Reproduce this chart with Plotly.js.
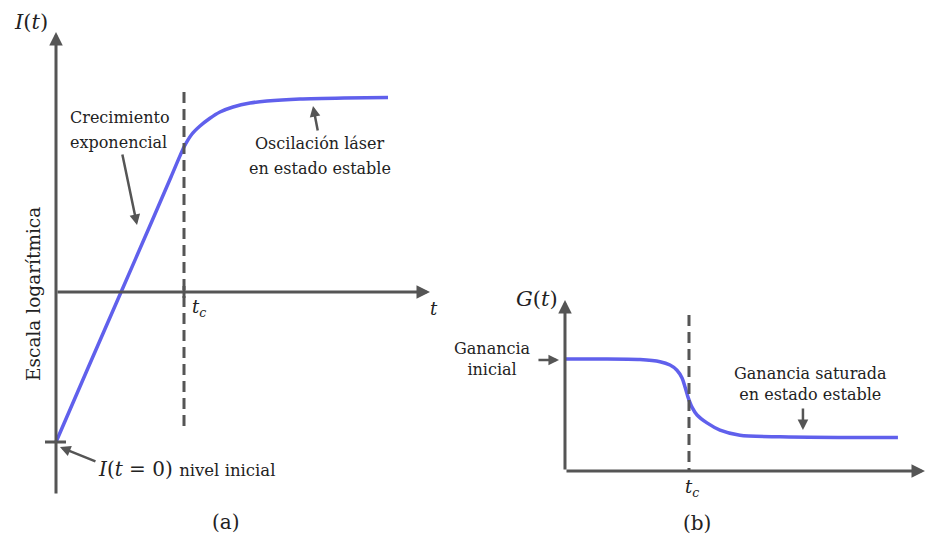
<!DOCTYPE html>
<html>
<head>
<meta charset="utf-8">
<script src="https://cdn.plot.ly/plotly-3.0.1.min.js"></script>
<style>
  html, body { margin: 0; padding: 0; background: #fff; }
  #chart { width: 927px; height: 538px; }
</style>
</head>
<body>
<div id="chart"></div>
<script>
// (a) Intensidad en escala logarítmica frente al tiempo
const timeA = [0, 0.25, 0.5, 0.75, 0.9, 1.0, 1.0625, 1.125, 1.2, 1.281, 1.383, 1.516, 1.648, 1.906, 2.25, 2.594];
const levelA = [-3.0, -1.52, -0.05, 1.42, 2.31, 2.9, 3.16, 3.32, 3.47, 3.6, 3.7, 3.78, 3.82, 3.86, 3.88, 3.89];

// (b) Ganancia frente al tiempo
const timeB = [0, 0.282, 0.605, 0.766, 0.847, 0.903, 0.944, 0.968, 0.992, 1.024, 1.065, 1.145, 1.25, 1.411, 1.734, 2.218, 2.685];
const gainB = [1.0, 1.0, 0.995, 0.976, 0.946, 0.9, 0.83, 0.75, 0.66, 0.57, 0.5, 0.43, 0.366, 0.32, 0.305, 0.30, 0.30];

// Instante crítico y nivel inicial
const tCrit = 1.0;
const levelInitial = -3.0;

const AXIS = '#555555';
const CURVE = 'rgb(96,96,236)';
const INK = '#222222';
const FONT = 'DejaVu Serif';

const traces = [
  { x: timeA, y: levelA, xaxis: 'x', yaxis: 'y', mode: 'lines',
    line: { color: CURVE, width: 3.5, shape: 'spline', smoothing: 0.6 }, hoverinfo: 'skip' },
  { x: timeB, y: gainB, xaxis: 'x2', yaxis: 'y2', mode: 'lines',
    line: { color: CURVE, width: 3.5, shape: 'spline', smoothing: 0.8 }, hoverinfo: 'skip' }
];

function arrow(ref, x, y, ax, ay, w, size) {
  return { xref: 'x' + ref, yref: 'y' + ref, axref: 'x' + ref, ayref: 'y' + ref,
    x: x, y: y, ax: ax, ay: ay, text: '', showarrow: true,
    arrowhead: 2, arrowsize: size, arrowwidth: w, arrowcolor: AXIS, standoff: 0, startstandoff: 0 };
}
function label(ref, x, y, text, opts) {
  return Object.assign({ xref: 'x' + ref, yref: 'y' + ref, x: x, y: y, text: text,
    showarrow: false, xanchor: 'center', yanchor: 'middle',
    font: { family: FONT, size: 16, color: INK } }, opts || {});
}
function mathFont(size) { return { family: FONT, size: size, color: INK }; }

const annotations = [
  // ejes del panel (a)
  arrow('', 0, 5.2, 0, -4.06, 3, 0.9),
  arrow('', 2.922, 0, 0, 0, 3, 0.9),
  // flechas de rótulos (a)
  arrow('', 0.633, 1.34, 0.516, 2.78, 2.5, 0.85),
  arrow('', 2.008, 3.72, 2.047, 3.2, 2.5, 0.85),
  arrow('', 0.031, -3.1, 0.32, -3.4, 2.5, 0.85),
  // textos (a)
  label('', -0.195, 5.4, '<i>I</i>(<i>t</i>)', { font: mathFont(21) }),
  label('', -0.18, -0.04, 'Escala logarítmica', { textangle: -90, font: mathFont(18.5) }),
  label('', 0.094, 3.49, 'Crecimiento', { xanchor: 'left' }),
  label('', 0.094, 3.0, 'exponencial', { xanchor: 'left' }),
  label('', 2.0625, 2.97, 'Oscilación láser'),
  label('', 2.0625, 2.48, 'en estado estable'),
  label('', 1.05, -0.32, '<i>t</i><sub><i>c</i></sub>', { xanchor: 'left', font: mathFont(18) }),
  label('', 2.953, -0.32, '<i>t</i>', { font: mathFont(18) }),
  label('', 0.31, -3.54, '<i>I</i>(<i>t</i> = 0) <span style="font-size:16.5px">nivel inicial</span>',
    { xanchor: 'left', font: mathFont(20) }),
  label('', 1.328, -4.6, '(a)', { font: mathFont(20) }),

  // ejes del panel (b)
  arrow('2', 0, 1.527, 0, 0, 3, 0.9),
  arrow('2', 2.903, 0, 0, 0, 3, 0.9),
  // flechas de rótulos (b)
  arrow('2', -0.048, 0.991, -0.226, 0.991, 2.5, 0.85),
  arrow('2', 1.919, 0.366, 1.919, 0.571, 2.5, 0.85),
  // textos (b)
  label('2', -0.226, 1.54, '<i>G</i>(<i>t</i>)', { font: mathFont(21) }),
  label('2', -0.581, 1.0, 'Ganancia<br>inicial'),
  label('2', 1.976, 0.777, 'Ganancia saturada<br>en estado estable'),
  label('2', 1.024, -0.152, '<i>t</i><sub><i>c</i></sub>', { font: mathFont(18) }),
  label('2', 1.064, -0.464, '(b)', { font: mathFont(20) })
];

const shapes = [
  // línea discontinua en t_c (a)
  { type: 'line', xref: 'x', yref: 'y', x0: tCrit, x1: tCrit, y0: 4.0, y1: -2.7,
    line: { color: AXIS, width: 3, dash: '11px,6px' } },
  // marca de t_c sobre el eje (a)
  { type: 'line', xref: 'x', yref: 'y', x0: tCrit, x1: tCrit, y0: 0.12, y1: -0.12,
    line: { color: AXIS, width: 3 } },
  // marca del nivel inicial (a)
  { type: 'line', xref: 'x', yref: 'y', x0: -0.086, x1: 0.078, y0: levelInitial, y1: levelInitial,
    line: { color: AXIS, width: 3 } },
  // línea discontinua en t_c (b)
  { type: 'line', xref: 'x2', yref: 'y2', x0: tCrit, x1: tCrit, y0: 1.393, y1: 0,
    line: { color: AXIS, width: 3, dash: '11px,6px' } }
];

const hidden = { visible: false, showgrid: false, zeroline: false, fixedrange: true };

const layout = {
  width: 927, height: 538,
  margin: { l: 0, r: 0, t: 0, b: 0, pad: 0 },
  paper_bgcolor: '#ffffff', plot_bgcolor: '#ffffff',
  showlegend: false,
  font: { family: FONT, color: INK },
  xaxis: Object.assign({ domain: [0, 0.5], range: [-0.4375, 3.1836] }, hidden),
  yaxis: Object.assign({ domain: [0, 1], range: [-4.92, 5.84] }, hidden),
  xaxis2: Object.assign({ domain: [0.5, 1], range: [-0.8185, 2.9194], anchor: 'y2' }, hidden),
  yaxis2: Object.assign({ domain: [0, 1], range: [-0.598, 4.205], anchor: 'x2' }, hidden),
  shapes: shapes,
  annotations: annotations
};

Plotly.newPlot('chart', traces, layout, { staticPlot: true, displayModeBar: false });
</script>
</body>
</html>
